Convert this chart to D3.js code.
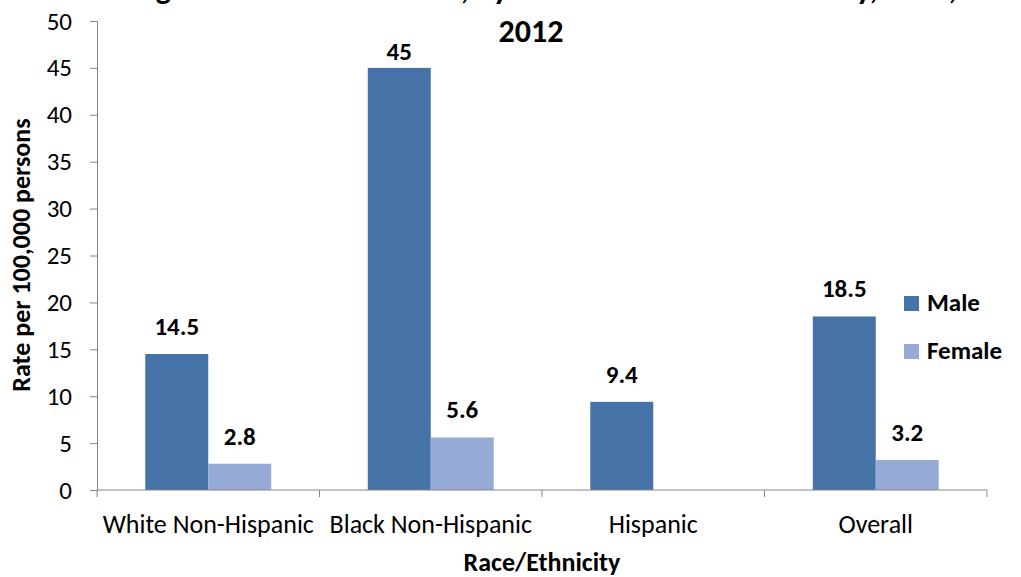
<!DOCTYPE html>
<html>
<meta charset="utf-8">
<script src="https://d3js.org/d3.v7.min.js"></script>
<style>
  body { margin: 0; background: #fff; }
  text { font-family: Carlito, "Liberation Sans Narrow", "Open Sans", sans-serif; fill: #000; }
</style>
<body>
<script>

var categories = ["White Non-Hispanic", "Black Non-Hispanic", "Hispanic", "Overall"];
var series = ["Male", "Female"];
var maleValues = [14.5, 45, 9.4, 18.5];
var femaleValues = [2.8, 5.6, null, 3.2];
var yTicks = [0, 5, 10, 15, 20, 25, 30, 35, 40, 45, 50];
var colors = ["#4572A7", "#95ABD5"];

var width = 1021, height = 577;
var plot = ({left: 97, right: 987, top: 21, bottom: 490});

var svg = d3.select("body").append("svg")
  .attr("width", width)
  .attr("height", height);

var x = d3.scaleBand()
  .domain(categories)
  .range([plot.left, plot.right])
  .paddingInner(0.434)
  .paddingOuter(0.217);
var x1 = d3.scaleBand()
  .domain(series)
  .range([0, x.bandwidth()]);
var y = d3.scaleLinear()
  .domain([0, 50])
  .range([plot.bottom, plot.top]);

// y axis
var yAx = d3.axisLeft(y).tickValues(yTicks).tickSize(7).tickPadding(18);
var yGroup = svg.append("g")
  .attr("transform", `translate(${plot.left},0)`)
  .call(yAx);
yGroup.select(".domain").attr("stroke", "#868686");
yGroup.selectAll(".tick line").attr("stroke", "#868686");
yGroup.selectAll("text").style("font-size", "25px").attr("fill", "#000");

// bars
var rows = categories.map(function(c, i) {
  return [{cat: c, s: "Male", v: maleValues[i]}, {cat: c, s: "Female", v: femaleValues[i]}];
});
var groups = svg.selectAll("g.cat")
  .data(rows)
  .enter().append("g")
  .attr("class", "cat")
  .attr("transform", function(d) { return `translate(${x(d[0].cat)},0)`; });

groups.selectAll("rect")
  .data(function(d) { return d.filter(function(e) { return e.v != null; }); })
  .enter().append("rect")
  .attr("x", function(d) { return x1(d.s); })
  .attr("y", function(d) { return y(d.v); })
  .attr("width", x1.bandwidth())
  .attr("height", function(d) { return y(0) - y(d.v); })
  .attr("fill", function(d) { return colors[series.indexOf(d.s)]; });

groups.selectAll("text.val")
  .data(function(d) { return d.filter(function(e) { return e.v != null; }); })
  .enter().append("text")
  .attr("class", "val")
  .attr("x", function(d) { return x1(d.s) + x1.bandwidth() / 2; })
  .attr("y", function(d) { return Math.max(y(d.v) - 19, y(50) + 39); })
  .attr("text-anchor", "middle")
  .style("font-size", "25px")
  .style("font-weight", "bold")
  .text(function(d) { return d.v; });

// x axis line and boundary ticks
svg.append("line")
  .attr("x1", plot.left).attr("x2", plot.right)
  .attr("y1", y(0)).attr("y2", y(0))
  .attr("stroke", "#868686");
var bounds = categories.map(function(c) { return x(c) - x.step() * x.paddingInner() / 2; });
bounds.push(plot.right);
svg.selectAll("line.xt")
  .data(bounds)
  .enter().append("line")
  .attr("class", "xt")
  .attr("x1", function(d) { return d; }).attr("x2", function(d) { return d; })
  .attr("y1", y(0)).attr("y2", y(0) + 7)
  .attr("stroke", "#868686");

svg.selectAll("text.cat")
  .data(categories)
  .enter().append("text")
  .attr("class", "cat")
  .attr("x", function(d) { return x(d) + x.bandwidth() / 2; })
  .attr("y", 533)
  .attr("text-anchor", "middle")
  .style("font-size", "26px")
  .text(function(d) { return d; });

// titles
svg.append("text")
  .attr("x", 542).attr("y", 571)
  .attr("text-anchor", "middle")
  .style("font-size", "26px").style("font-weight", "bold")
  .text("Race/Ethnicity");

svg.append("text")
  .attr("transform", "translate(30,255) rotate(-90)")
  .attr("text-anchor", "middle")
  .style("font-size", "26px").style("font-weight", "bold")
  .text("Rate per 100,000 persons");

// first title line runs off the top edge, as in the source image
svg.append("text")
  .attr("x", 545).attr("y", -1)
  .attr("text-anchor", "middle")
  .style("font-size", "32px").style("font-weight", "bold")
  .text("Figure 7. Homicide Rates, by Gender and Race/Ethnicity, Ohio,");
svg.append("text")
  .attr("x", 531).attr("y", 42)
  .attr("text-anchor", "middle")
  .style("font-size", "32px").style("font-weight", "bold")
  .text("2012");

// legend
var legend = svg.selectAll("g.leg")
  .data(series)
  .enter().append("g")
  .attr("class", "leg")
  .attr("transform", function(d, i) { return `translate(904,${296 + i * 48})`; });
legend.append("rect")
  .attr("width", 15).attr("height", 15)
  .attr("fill", function(d, i) { return colors[i]; });
legend.append("text")
  .attr("x", 23).attr("y", 15)
  .style("font-size", "25px").style("font-weight", "bold")
  .text(function(d) { return d; });

</script>
</body>
</html>
